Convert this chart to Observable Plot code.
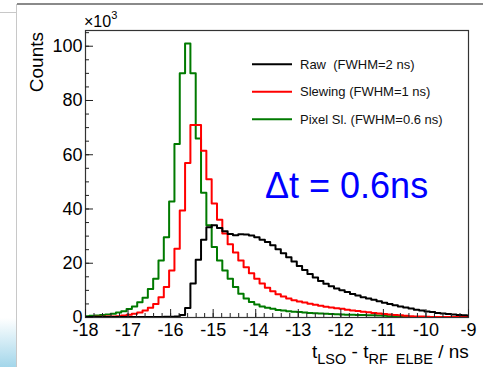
<!DOCTYPE html>
<html>
<head>
<meta charset="utf-8">
<script src="https://cdn.jsdelivr.net/npm/d3@7"></script>
<script src="https://cdn.jsdelivr.net/npm/@observablehq/plot@0.6"></script>
<style>
  html, body { margin: 0; padding: 0; background: #fff; }
  #wrap { position: relative; width: 483px; height: 367px; overflow: hidden; }
  #chart { position: absolute; left: 0; top: 0; }
  .deco { position: absolute; }
</style>
</head>
<body>
<div id="wrap">
  <div class="deco" style="left:17px;top:3px;width:466px;height:2px;background:#8a8a8a;"></div>
  <div class="deco" style="left:0;top:12px;width:17px;height:1px;background:#c8c8c8;"></div>
  <div class="deco" style="left:16px;top:4px;width:1px;height:363px;background:#c8c8c8;"></div>
  <div class="deco" style="left:0;top:318px;width:16px;height:49px;background:linear-gradient(#ffffff,#a3d6ea);"></div>
  <div id="chart"></div>
</div>
<script>
// ---- data (counts in units of 10^3 per 0.125 ns bin) ----
const binStart = -18.035;
const binWidth = 0.125;

const rawCounts = [
  0.2,0.2,0.2,0.2,0.2,0.2,0.2,0.2,0.2,0.2,0.2,0.2,0.2,0.2,0.2,
  0.3,0.3,0.4,0.9,3.5,12.5,21.3,28.7,33.3,34.0,33.0,31.8,30.8,30.3,30.7,
  30.6,30.2,29.6,28.7,27.8,26.6,25.2,23.7,22.2,20.6,19.0,17.5,16.0,14.7,13.5,
  12.4,11.5,10.7,10.0,9.4,8.7,8.1,7.5,7.0,6.5,6.0,5.4,5.0,4.5,4.1,
  3.7,3.3,2.9,2.6,2.2,2.0,1.7,1.5,1.3,1.1,0.9,0.8,0.7
];
const slewingCounts = [
  0.2,0.2,0.3,0.3,0.4,0.4,0.5,0.7,1.0,1.4,1.8,2.6,3.6,5.0,7.5,
  11.2,17.3,25.3,39.4,57,71,71,61.5,51,42,36,31,27,24,21,
  18.5,16.3,14.3,12.5,11,9.7,8.6,7.7,7.0,6.4,5.9,5.5,5.1,4.7,4.3,
  4.0,3.7,3.4,3.2,2.9,2.6,2.4,2.1,1.9,1.7,1.5,1.3,1.1,0.9,0.8,
  0.6,0.5,0.4,0.35,0.3,0.2,0.2,0.2,0.2,0.2,0.2,0.2,0.2
];
const pixelCounts = [
  0.5,0.6,0.7,0.9,1.1,1.4,1.8,2.3,3.1,4.1,5.6,7.3,10.5,14.3,21,
  29.6,42.8,64,90,101,90,66,46,34,26,21,17.3,14.3,11.2,8.8,
  7.0,5.7,4.8,4.1,3.6,3.2,2.8,2.6,2.3,2.1,2.0,1.8,1.7,1.6,1.5,
  1.4,1.3,1.2,1.1,1.0,1.0,0.9,0.9,0.8,0.8,0.7,0.6,0.5,0.4,0.3,
  0.2,0.2,0.2,0.2,0.2,0.2,0.2,0.2,0.2,0.2,0.2,0.2,0.2
];

const seriesNames = ["Raw  (FWHM=2 ns)", "Slewing (FWHM=1 ns)", "Pixel Sl. (FWHM=0.6 ns)"];
const seriesColors = ["#000000", "#ff0000", "#007a00"];

const xTicks = [-18,-17,-16,-15,-14,-13,-12,-11,-10,-9];
const yTicks = [0,20,40,60,80,100];
const xMinorTicks = d3.range(0, 46).map(i => -18 + i * 0.2);
const yMinorTicks = d3.range(0, 22).map(i => i * 5);

function steps(values) {
  const pts = values.map((v, k) => ({x: binStart + k * binWidth, y: v}));
  pts.push({x: binStart + values.length * binWidth, y: values[values.length - 1]});
  return pts;
}

const font = "'Liberation Sans', Arial, Helvetica, sans-serif";

const chart = Plot.plot({
  width: 483,
  height: 367,
  marginLeft: 85,
  marginRight: 15,
  marginTop: 30,
  marginBottom: 50,
  style: {fontFamily: font, background: "transparent", color: "#000"},
  x: {domain: [-18, -9]},
  y: {domain: [0, 105.8]},
  marks: [
    Plot.frame({stroke: "#333", strokeWidth: 1.2}),
    Plot.line(steps(pixelCounts), {x: "x", y: "y", curve: "step-after", stroke: seriesColors[2], strokeWidth: 2, clip: true}),
    Plot.line(steps(slewingCounts), {x: "x", y: "y", curve: "step-after", stroke: seriesColors[1], strokeWidth: 2, clip: true}),
    Plot.line(steps(rawCounts), {x: "x", y: "y", curve: "step-after", stroke: seriesColors[0], strokeWidth: 2, clip: true}),
    Plot.axisX({ticks: xMinorTicks, tickSize: -4, tickFormat: () => "", label: null, stroke: "#222"}),
    Plot.axisX({ticks: xTicks, tickSize: -8, tickFormat: () => "", label: null, stroke: "#222"}),
    Plot.axisX({ticks: xTicks, tickSize: 0, tickPadding: 6, fontSize: 18, label: null, tickFormat: d => String(d)}),
    Plot.axisY({ticks: yMinorTicks, tickSize: -4, tickFormat: () => "", label: null, stroke: "#222"}),
    Plot.axisY({ticks: yTicks, tickSize: -8, tickFormat: () => "", label: null, stroke: "#222"}),
    Plot.axisY({ticks: yTicks, tickSize: 0, tickPadding: 3, fontSize: 18, label: null})
  ]
});
document.getElementById("chart").appendChild(chart);

const svg = d3.select(chart);
svg.style("overflow", "visible");

// y axis title
svg.append("text")
  .attr("transform", "translate(43,32) rotate(-90)")
  .attr("text-anchor", "end")
  .attr("font-family", font)
  .attr("font-size", 19)
  .text("Counts");

// multiplier
const mult = svg.append("text")
  .attr("x", 84).attr("y", 27)
  .attr("text-anchor", "start")
  .attr("font-family", font)
  .attr("font-size", 16);
mult.append("tspan").text("×10");
mult.append("tspan").attr("font-size", 11).attr("dy", -8).text("3");

// x axis title
const xt = svg.append("text")
  .attr("x", 312).attr("y", 358)
  .attr("text-anchor", "start")
  .attr("font-family", font)
  .attr("font-size", 19)
  .attr("xml:space", "preserve")
  .style("white-space", "pre");
xt.append("tspan").text("t");
xt.append("tspan").attr("font-size", 14.5).attr("dy", 6).text("LSO");
xt.append("tspan").attr("dy", -6).text(" - t");
xt.append("tspan").attr("font-size", 14.5).attr("dy", 6).text("RF  ELBE");
xt.append("tspan").attr("dy", -6).text(" / ns");

// legend
const legendY = [64.3, 91.7, 119.3];
seriesNames.forEach((name, i) => {
  svg.append("line")
    .attr("x1", 252).attr("x2", 292)
    .attr("y1", legendY[i]).attr("y2", legendY[i])
    .attr("stroke", seriesColors[i]).attr("stroke-width", 2);
  svg.append("text")
    .attr("x", 300).attr("y", legendY[i])
    .attr("dy", "0.35em")
    .attr("text-anchor", "start")
    .attr("font-family", font)
    .attr("font-size", 13)
    .attr("fill", "#111")
    .attr("xml:space", "preserve")
    .style("white-space", "pre")
    .text(name);
});

// annotation
svg.append("text")
  .attr("x", 265).attr("y", 198)
  .attr("text-anchor", "start")
  .attr("font-family", font)
  .attr("font-size", 36)
  .attr("fill", "#0000ff")
  .text("Δt = 0.6ns");
</script>
</body>
</html>
